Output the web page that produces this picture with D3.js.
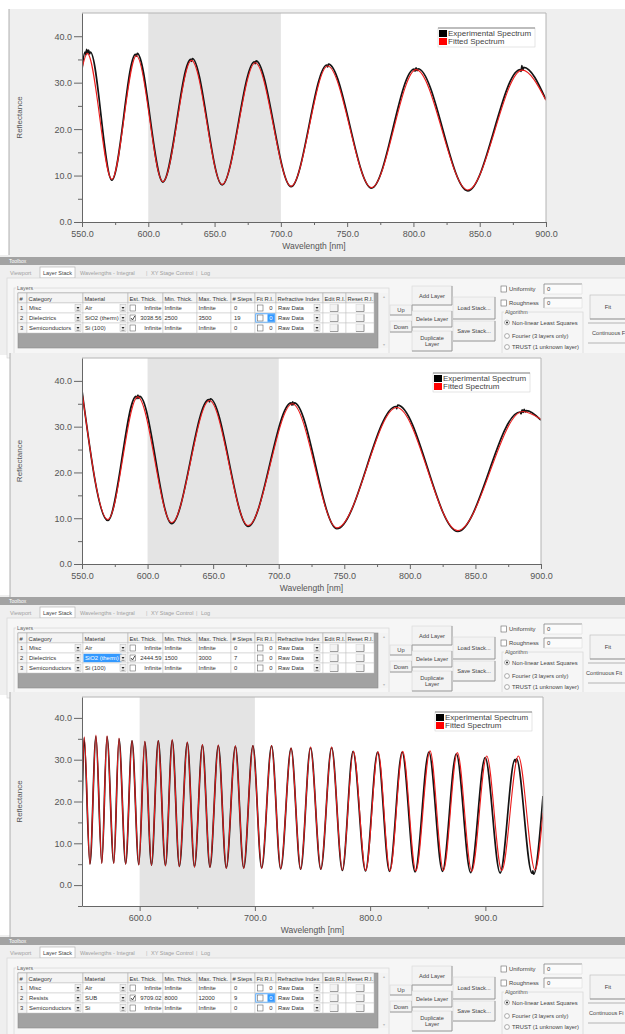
<!DOCTYPE html>
<html>
<head>
<meta charset="utf-8">
<script src="https://cdn.jsdelivr.net/npm/d3@7"></script>
<style>
  body { margin: 0; background: #fff; }
  svg { display: block; }
  text { font-family: "Liberation Sans", Arial, sans-serif; }
</style>
</head>
<body>
<svg id="fig" width="625" height="1034"></svg>
<script>
const svg = d3.select("#fig")

// ---- spectra: [wavelength nm, reflectance %]
const c1Fit = [[550,33.0],[554,36.3],[572.5,9.2],[591,35.8],[611,8.7],[632.6,34.8],[655.7,8.1],[680.7,34.3],
  [707.7,7.7],[735.3,33.6],[768.4,7.4],[802,32.8],[841,6.9],[882,32.7],[900,26.2]]
const c1Exp = [[550,32.8],[552.2,36.6],[552.9,36.0],[553.5,37.2],[554.2,36.3],[555,37.0],[555.7,36.2],[556.3,36.6],
  [572.5,9.0],[590.3,36.1],[591,35.7],[591.7,36.3],[611,8.6],[632,35.0],[632.6,34.6],[633.2,35.2],[655.7,8.0],
  [680.1,34.5],[680.7,34.1],[681.3,34.7],[707.7,7.6],[734.7,33.8],[735.3,33.4],[735.9,34.0],[768.4,7.3],
  [800.6,32.9],[801.3,32.5],[802,33.2],[802.7,32.6],[803.4,33.0],[841,6.7],
  [880.6,32.8],[881.2,32.4],[881.8,33.7],[882.5,32.7],[883.2,33.3],[900,26.3]]

const c2Fit = [[550,37.7],[569.7,9.7],[592.5,36.5],[618.4,9.0],[647.2,35.7],[676.7,8.4],[710.4,35.0],[744.4,7.9],
  [790,34.2],[836.5,7.3],[886,33.3],[900,31.6]]
const c2Exp = [[550,37.9],[569.7,9.5],[591.2,36.6],[591.9,36.1],[592.6,36.9],[593.3,36.2],[594,36.6],
  [618.4,8.8],[646.6,35.9],[647.2,35.4],[647.8,36.1],[676.7,8.2],
  [709.5,35.2],[710.1,34.7],[710.7,35.4],[711.3,34.8],[711.9,35.2],[744.4,7.7],
  [789.4,34.4],[790,33.9],[790.6,34.7],[836.5,7.1],
  [884,33.2],[884.8,32.8],[885.6,33.7],[886.4,33.1],[887.2,33.8],[888,33.2],[888.8,33.5],[900,31.4]]

const c3Fit = [[550,22],[552,35.5],[556.9,5.0],[562.1,35.9],[567.2,5.2],[571.7,35.7],[577.6,5.2],[582.1,35.2],
  [587.9,5.0],[593.4,34.6],[599.3,4.8],[604.5,34.4],[610.3,4.7],[616.2,34.6],[622.4,4.6],[628.3,34.8],
  [634.5,4.4],[641.4,34.2],[647.6,4.3],[654.5,33.6],[661,4.2],[668.3,33.5],[675.2,4.0],[683.1,33.3],
  [690.3,4.0],[698.3,33.4],[705.9,4.0],[714.5,33.4],[722.4,3.9],[731.4,32.8],[739.7,3.8],[748.3,33.0],
  [757.2,3.8],[766.6,33.0],[775.9,3.6],[785.5,32.0],[796.2,3.5],[806.9,31.9],[817.2,3.4],[828.3,32.0],
  [839.7,3.4],[852,32.1],[863.6,3.5],[875.7,31.7],[888.2,3.3],[901.2,30.9],[914.2,3.5],[928.6,30.9],
  [943.1,3.6],[950,17.3]]
const c3Exp = [[550,17],[551.8,35.2],[556.9,5.1],[562.1,35.6],[567.2,5.3],[571.7,35.5],[577.6,5.3],[582.1,35.0],
  [587.9,5.1],[593.4,34.5],[599.3,4.9],[604.5,34.3],[610.3,4.8],[616.2,34.5],[622.4,4.7],[628.3,34.6],
  [634.5,4.5],[641.4,34.1],[647.6,4.4],[654.5,33.5],[661,4.3],[668.3,33.4],[675.2,4.1],[683.1,33.2],
  [690.3,4.1],[698.3,33.3],[705.9,4.1],[714.5,33.3],[722.4,3.9],[731.4,32.7],[739.7,3.8],[748.3,32.9],
  [757.2,3.8],[766.6,32.9],[775.9,3.5],[785.2,32.0],[796,3.4],[806.5,31.8],[816.8,3.3],[827.8,31.8],
  [839,3.2],[851,31.8],[862.8,3.3],[874.8,31.4],[887.2,3.0],[899.8,30.5],[912.8,2.9],
  [925.6,30.0],[926.3,29.4],[927,30.2],[940.5,2.8],[941.2,3.4],[941.9,2.6],[950,21.3]]

// ---- toolbox contents
const tabLabels = ["Viewport", "Layer Stack", "Wavelengths - Integral", "XY Stage Control", "Log"]
const tabX = [10, 43, 80, 151, 201]
const tableHeaders = ["#", "Category", "Material", "Est. Thick.", "Min. Thick.", "Max. Thick.", "# Steps",
  "Fit R.I.", "Refractive Index", "Edit R.I.", "Reset R.I."]
const colX = [18, 27, 83, 128, 163, 197, 231, 255, 276, 323, 346, 374]
const algorithms = ["Non-linear Least Squares", "Fourier (3 layers only)", "TRUST (1 unknown layer)"]

const stack1 = [
  ["1", "Misc", "Air", false, "Infinite", "Infinite", "Infinite", "0", "0", "Raw Data"],
  ["2", "Dielectrics", "SiO2 (therm)", true, "3038.56", "2500", "3500", "19", "0", "Raw Data"],
  ["3", "Semiconductors", "Si (100)", false, "Infinite", "Infinite", "Infinite", "0", "0", "Raw Data"]]
const stack2 = [
  ["1", "Misc", "Air", false, "Infinite", "Infinite", "Infinite", "0", "0", "Raw Data"],
  ["2", "Dielectrics", "SiO2 (therm)", true, "2444.59", "1500", "3000", "7", "0", "Raw Data"],
  ["3", "Semiconductors", "Si (100)", false, "Infinite", "Infinite", "Infinite", "0", "0", "Raw Data"]]
const stack3 = [
  ["1", "Misc", "Air", false, "Infinite", "Infinite", "Infinite", "0", "0", "Raw Data"],
  ["2", "Resists", "SUB", true, "9709.02", "8000", "12000", "9", "0", "Raw Data"],
  ["3", "Semiconductors", "Si", false, "Infinite", "Infinite", "Infinite", "0", "0", "Raw Data"]]

const BLUE = "#3399ff"
const FS = 5.9

function txt(g, x, y, s, size, fill, anchor) {
  return g.append("text").attr("x", x).attr("y", y).attr("font-size", size || FS)
    .attr("fill", fill || "#333").attr("text-anchor", anchor || "start").text(s)
}

function button(g, x, y, w, h, labels) {
  g.append("rect").attr("x", x).attr("y", y).attr("width", w).attr("height", h)
    .attr("fill", "#f3f3f3").attr("stroke", "#d8d8d8").attr("stroke-width", 0.6)
  g.append("path").attr("d", `M${x + w},${y}V${y + h}H${x}`).attr("fill", "none")
    .attr("stroke", "#8a8a8a").attr("stroke-width", 0.8)
  const y0 = y + h / 2 + 2 - (labels.length - 1) * 3.2
  labels.forEach((s, i) => txt(g, x + w / 2, y0 + i * 6.4, s, 5.7, "#444", "middle"))
}

function checkbox(g, x, y, checked) {
  g.append("rect").attr("x", x).attr("y", y).attr("width", 5.5).attr("height", 6)
    .attr("fill", "#fff").attr("stroke", "#666").attr("stroke-width", 0.6)
  if (checked) g.append("path").attr("d", `M${x + 1},${y + 3}l1.5,2l2.3,-4`)
    .attr("fill", "none").attr("stroke", "#222").attr("stroke-width", 0.8)
}

function dropArrow(g, x, y) {
  g.append("rect").attr("x", x).attr("y", y).attr("width", 6).attr("height", 7)
    .attr("fill", "#f0f0f0").attr("stroke", "#aaa").attr("stroke-width", 0.4)
  g.append("path").attr("d", `M${x + 1.5},${y + 2.5}h3l-1.5,2z`).attr("fill", "#222")
  g.append("line").attr("x1", x + 1.5).attr("x2", x + 4.5).attr("y1", y + 5.8).attr("y2", y + 5.8)
    .attr("stroke", "#222").attr("stroke-width", 0.5)
}

function drawToolbox(t) {
  const g = svg.append("g").attr("transform", `translate(0,${t.y0})`)
  g.append("rect").attr("width", 625).attr("height", 100).attr("fill", "#efefef")
  g.append("rect").attr("y", 2).attr("width", 625).attr("height", 8).attr("fill", "#a3a3a3")
  txt(g, 9, 8.2, "Toolbox", 5, "#fff")

  // tab strip
  tabLabels.forEach((s, i) => {
    if (i === 1) {
      g.append("rect").attr("x", 40).attr("y", 12).attr("width", 35).attr("height", 11)
        .attr("fill", "#fff").attr("stroke", "#aaa").attr("stroke-width", 0.6)
    }
    txt(g, tabX[i], 19.5, s, 5.5, i === 1 ? "#444" : "#a0a0a0")
    if (i > 2) txt(g, tabX[i] - 5, 19.5, "|", 5.5, "#bbb")
  })
  g.append("rect").attr("x", 7).attr("y", 23).attr("width", 630).attr("height", 80)
    .attr("fill", "#f6f6f6").attr("stroke", "#cfcfcf").attr("stroke-width", 0.6)

  // Layers group
  g.append("rect").attr("x", 14).attr("y", 33).attr("width", 375).attr("height", 70)
    .attr("fill", "none").attr("stroke", "#d0d0d0").attr("stroke-width", 0.6)
  g.append("rect").attr("x", 16).attr("y", 30).attr("width", 18).attr("height", 5).attr("fill", "#f6f6f6")
  txt(g, 17, 35, "Layers", 5.4, "#666")

  // table
  const tx0 = colX[0], tx1 = 378
  g.append("rect").attr("x", tx0).attr("y", 38).attr("width", tx1 - tx0).attr("height", 55)
    .attr("fill", "#a2a2a2").attr("stroke", "#8c8c8c").attr("stroke-width", 0.6)
  tableHeaders.forEach((h, i) => {
    g.append("rect").attr("x", colX[i]).attr("y", 38).attr("width", colX[i + 1] - colX[i]).attr("height", 10)
      .attr("fill", "#f4f4f4").attr("stroke", "#a8a8a8").attr("stroke-width", 0.5)
    txt(g, colX[i] + 1.5, 45.5, h, 5.8, "#333")
  })
  t.rows.forEach((r, ri) => {
    const ry = 48 + ri * 10
    for (let i = 0; i < 11; i++) {
      g.append("rect").attr("x", colX[i]).attr("y", ry).attr("width", colX[i + 1] - colX[i]).attr("height", 10)
        .attr("fill", i === 0 ? "#f4f4f4" : "#fff").attr("stroke", "#c4c4c4").attr("stroke-width", 0.5)
    }
    const by = ry + 7.3
    txt(g, colX[0] + 2, by, r[0])
    txt(g, colX[1] + 2, by, r[1])
    dropArrow(g, colX[2] - 8, ry + 1.5)
    if (t.matSel && ri === 1) {
      g.append("rect").attr("x", colX[2] + 0.5).attr("y", ry + 0.8).attr("width", 38).attr("height", 8.4).attr("fill", BLUE)
      txt(g, colX[2] + 2, by, r[2], FS, "#fff")
    } else {
      txt(g, colX[2] + 2, by, r[2])
    }
    dropArrow(g, colX[3] - 8, ry + 1.5)
    checkbox(g, colX[3] + 2, ry + 2, r[3])
    txt(g, colX[4] - 1.5, by, r[4], FS, "#333", "end")
    txt(g, colX[4] + 1.5, by, r[5])
    txt(g, colX[5] + 1.5, by, r[6])
    txt(g, colX[6] + 3, by, r[7])
    if (t.fitSel && ri === 1) {
      g.append("rect").attr("x", colX[7] + 0.8).attr("y", ry + 0.8).attr("width", 19).attr("height", 8.4)
        .attr("fill", "none").attr("stroke", BLUE).attr("stroke-width", 0.8)
      checkbox(g, colX[7] + 2.5, ry + 2, false)
      g.append("rect").attr("x", colX[7] + 12.5).attr("y", ry + 1.2).attr("width", 7).attr("height", 7.6).attr("fill", BLUE)
      txt(g, colX[7] + 16, by, r[8], FS, "#fff", "middle")
    } else {
      checkbox(g, colX[7] + 2.5, ry + 2, false)
      txt(g, colX[7] + 16, by, r[8], FS, "#333", "middle")
    }
    txt(g, colX[8] + 2, by, r[9])
    dropArrow(g, colX[9] - 9, ry + 1.5)
    button(g, colX[9] + 7, ry + 1.5, 8, 7, [])
    button(g, colX[10] + 10, ry + 1.5, 8, 7, [])
  })
  // scroll bar
  g.append("rect").attr("x", 379).attr("y", 38).attr("width", 9).attr("height", 55).attr("fill", "#f3f3f3")
  txt(g, 383.5, 43, "\u25B4", 4, "#bbb", "middle")
  txt(g, 383.5, 91, "\u25BE", 4, "#bbb", "middle")

  // buttons
  button(g, 390, 50, 22, 10, ["Up"])
  button(g, 390, 66, 22, 11, ["Down"])
  button(g, 412, 31, 40, 19, ["Add Layer"])
  button(g, 412, 56, 40, 16, ["Delete Layer"])
  button(g, 412, 76, 40, 20, ["Duplicate", "Layer"])
  button(g, 453, 42, 42, 22, ["Load Stack..."])
  button(g, 453, 66, 42, 20, ["Save Stack..."])

  // uniformity / roughness
  ;[["Uniformity", 31], ["Roughness", 45]].forEach(([s, yy]) => {
    checkbox(g, 501, yy, false)
    txt(g, 509, yy + 5, s, 5.9, "#444")
    g.append("rect").attr("x", 544).attr("y", yy - 2).attr("width", 38).attr("height", 10).attr("fill", "#fbfbfb")
    g.append("path").attr("d", `M544,${yy + 8}V${yy - 2}H582`).attr("fill", "none").attr("stroke", "#777").attr("stroke-width", 0.7)
    g.append("path").attr("d", `M544,${yy + 8}H582V${yy - 2}`).attr("fill", "none").attr("stroke", "#ddd").attr("stroke-width", 0.6)
    txt(g, 547, yy + 5, "0", 5.9, "#444")
  })

  // algorithm group
  g.append("rect").attr("x", 502).attr("y", 57).attr("width", 81).attr("height", 46)
    .attr("fill", "none").attr("stroke", "#cfcfcf").attr("stroke-width", 0.6)
  g.append("rect").attr("x", 504).attr("y", 54).attr("width", 24).attr("height", 5).attr("fill", "#f6f6f6")
  txt(g, 505, 59, "Algorithm", 5.4, "#555")
  algorithms.forEach((s, i) => {
    const cy = [67.5, 81, 92][i]
    g.append("circle").attr("cx", 507).attr("cy", cy).attr("r", 2.4).attr("fill", "#fff").attr("stroke", "#777").attr("stroke-width", 0.6)
    if (i === 0) g.append("circle").attr("cx", 507).attr("cy", cy).attr("r", 1).attr("fill", "#222")
    txt(g, 512, cy + 2, s, 5.8, "#444")
  })

  // fit buttons (the window is cut at the right edge, so only part of the label shows)
  g.append("rect").attr("x", 590).attr("y", 40).attr("width", 40).attr("height", 24)
    .attr("fill", "#f3f3f3").attr("stroke", "#bbb").attr("stroke-width", 0.6)
  g.append("path").attr("d", "M590,64H630").attr("stroke", "#888").attr("stroke-width", 0.8)
  txt(g, 608, 54, "Fit", 5.8, "#444", "middle")
  g.append("path").attr("d", "M588,68H630M588,88H630").attr("stroke", "#999").attr("stroke-width", 0.7)
  txt(g, t.contX, 80, t.contLabel, 5.6, "#444")
}

function drawChart(c) {
  const g = svg.append("g")
  g.append("rect").attr("x", c.px).attr("y", c.py0).attr("width", 625 - c.px).attr("height", c.py1 - c.py0)
    .attr("fill", "#efefef")
  g.append("line").attr("x1", c.px).attr("x2", c.px).attr("y1", c.py0).attr("y2", c.py1)
    .attr("stroke", "#9c9c9c").attr("stroke-width", 0.8)

  const x = d3.scaleLinear().domain(c.xDomain).range([c.left, c.right])
  const y = d3.scaleLinear().domain(c.yDomain).range([c.bottom, c.top])

  g.append("rect").attr("x", c.left).attr("y", c.top).attr("width", c.right - c.left)
    .attr("height", c.bottom - c.top).attr("fill", "#fff")
  g.append("rect").attr("x", x(600)).attr("y", c.top).attr("width", x(700) - x(600))
    .attr("height", c.bottom - c.top).attr("fill", "#e4e4e4")

  g.append("clipPath").attr("id", "clip" + c.id).append("rect")
    .attr("x", c.left).attr("y", c.top).attr("width", c.right - c.left).attr("height", c.bottom - c.top)
  const line = d3.line().x(d => x(d[0])).y(d => y(d[1])).curve(d3.curveMonotoneX)
  const lines = g.append("g").attr("clip-path", `url(#clip${c.id})`)
  lines.append("path").datum(c.exp).attr("d", line).attr("fill", "none")
    .attr("stroke", "#141414").attr("stroke-width", 1.7).attr("stroke-linejoin", "round")
  lines.append("path").datum(c.fit).attr("d", line).attr("fill", "none")
    .attr("stroke", "#ec1c1c").attr("stroke-width", 1.1)

  g.append("path").attr("d", `M${c.left},${c.top}H${c.right}V${c.bottom}`)
    .attr("fill", "none").attr("stroke", "#b4b4b4").attr("stroke-width", 1)

  const fmt = d3.format(".1f")
  const styleAxis = a => {
    a.select(".domain").attr("stroke", "#666")
    a.selectAll(".tick line").attr("stroke", "#666")
    a.selectAll(".tick text").attr("fill", "#555").attr("font-size", 9)
      .attr("font-family", '"Liberation Sans", Arial, sans-serif')
  }
  g.append("g").attr("transform", `translate(${c.left},0)`)
    .call(d3.axisLeft(y).tickValues(c.yMinor).tickSize(4).tickSizeOuter(0).tickFormat(() => ""))
    .call(a => { a.select(".domain").remove(); a.selectAll("line").attr("stroke", "#666") })
  g.append("g").attr("transform", `translate(0,${c.bottom})`)
    .call(d3.axisBottom(x).tickValues(c.xMinor).tickSize(3).tickSizeOuter(0).tickFormat(() => ""))
    .call(a => { a.select(".domain").remove(); a.selectAll("line").attr("stroke", "#666") })
  g.append("g").attr("transform", `translate(${c.left},0)`)
    .call(d3.axisLeft(y).tickValues(c.yMajor).tickSize(8).tickPadding(2).tickSizeOuter(0).tickFormat(fmt))
    .call(styleAxis)
  g.append("g").attr("transform", `translate(0,${c.bottom})`)
    .call(d3.axisBottom(x).tickValues(c.xMajor).tickSize(5).tickPadding(4).tickSizeOuter(0).tickFormat(fmt))
    .call(styleAxis)

  txt(g, 0, 0, "Reflectance", 8, "#555", "middle")
    .attr("transform", `translate(22,${(c.top + c.bottom) / 2}) rotate(-90)`)
  txt(g, (c.left + c.right) / 2, c.bottom + 27, "Wavelength [nm]", 8.5, "#555", "middle")

  // legend
  const lg = g.append("g").attr("transform", `translate(${c.right - 108},${c.top + 15})`)
  lg.append("rect").attr("width", 97).attr("height", 19).attr("fill", "#fff")
    .attr("stroke", "#d4d4d4").attr("stroke-width", 0.6)
  lg.append("line").attr("x1", 0).attr("x2", 97).attr("y1", 0).attr("y2", 0).attr("stroke", "#888").attr("stroke-width", 1.2)
  lg.append("rect").attr("x", 1).attr("y", 2).attr("width", 8).attr("height", 7).attr("fill", "#000")
  lg.append("rect").attr("x", 1).attr("y", 10).attr("width", 8).attr("height", 7).attr("fill", "#ff0000")
  txt(lg, 10, 8.3, "Experimental Spectrum", 8, "#444")
  txt(lg, 10, 16.3, "Fitted Spectrum", 8, "#444")
}

const yMaj = [0, 10, 20, 30, 40]
const yMin = [5, 15, 25, 35]
const xMaj1 = [550, 600, 650, 700, 750, 800, 850, 900]
const xMin1 = [575, 625, 675, 725, 775, 825, 875]

drawToolbox({ y0: 255, rows: stack1, fitSel: true, matSel: false, contX: 592, contLabel: "Continuous F" })
drawToolbox({ y0: 595, rows: stack2, fitSel: false, matSel: true, contX: 586, contLabel: "Continuous Fit" })
drawToolbox({ y0: 935, rows: stack3, fitSel: true, matSel: false, contX: 589, contLabel: "Continuous Fi" })

drawChart({ id: 1, px: 9, py0: 9, py1: 255, left: 82, right: 546, top: 13, bottom: 222,
  xDomain: [550, 900], yDomain: [0, 45], xMajor: xMaj1, xMinor: xMin1, yMajor: yMaj, yMinor: yMin,
  fit: c1Fit, exp: c1Exp })
drawChart({ id: 2, px: 10, py0: 353, py1: 597, left: 82, right: 541, top: 358, bottom: 564,
  xDomain: [550, 900], yDomain: [0, 45], xMajor: xMaj1, xMinor: xMin1, yMajor: yMaj, yMinor: yMin,
  fit: c2Fit, exp: c2Exp })
drawChart({ id: 3, px: 10, py0: 692, py1: 937, left: 82, right: 543, top: 697, bottom: 906,
  xDomain: [550, 950], yDomain: [-5, 45], xMajor: [600, 700, 800, 900], xMinor: [650, 750, 850],
  yMajor: yMaj, yMinor: [-5].concat(yMin), fit: c3Fit, exp: c3Exp })
</script>
</body>
</html>
